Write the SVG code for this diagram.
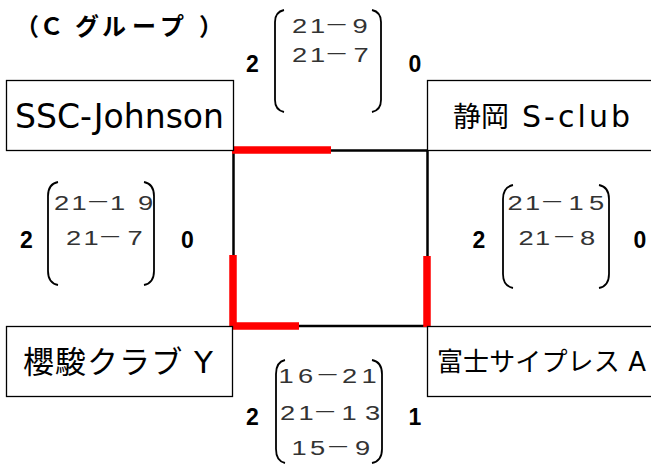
<svg xmlns="http://www.w3.org/2000/svg" width="651" height="464" viewBox="0 0 651 464">
<style>
.box{fill:#fff;stroke:#000;stroke-width:1.3}
.lbl{font-family:"DejaVu Sans","Noto Sans CJK JP",sans-serif;fill:#000}
.sc{font-family:"Liberation Sans","Noto Sans CJK JP",sans-serif;font-size:21px;fill:#333;text-anchor:middle}
.d{font-size:19px}
.big{font-family:"Liberation Sans",sans-serif;font-weight:bold;font-size:23px;fill:#000;text-anchor:middle}
.br{fill:none;stroke:#000;stroke-width:1.8}
.edge{fill:none;stroke:#000;stroke-width:2.5}
.win{fill:none;stroke:#f00;stroke-width:7.5;stroke-linecap:butt;stroke-linejoin:miter}
</style>
<rect width="651" height="464" fill="#fff"/>
<text id="title" x="15 39.5 75 102 132 160 199" y="35" style="font-family:'Noto Sans CJK JP',sans-serif;font-weight:bold;font-size:24px">（Ｃグループ）</text>
<g id="connectors">
<rect class="edge" x="233.5" y="150.5" width="194" height="175.5"/>
<path class="win" d="M232 150H331"/>
<path class="win" d="M233 255V326H299"/>
<path class="win" d="M427 256V327"/>
</g>
<g id="team-ssc">
<rect class="box" x="6.5" y="80.5" width="227" height="70"/>
<text class="lbl" x="15" y="127.5" font-size="33" textLength="209">SSC-Johnson</text>
</g>
<g id="team-shizuoka">
<rect class="box" x="427.5" y="80.5" width="240" height="70"/>
<text class="lbl" x="453" y="127" font-size="28">静岡 <tspan x="522" font-size="30" textLength="108">S-club</tspan></text>
</g>
<g id="team-ouryun">
<rect class="box" x="6.5" y="326.5" width="226" height="70"/>
<text class="lbl" x="23" y="373" font-size="31" textLength="190">櫻駿クラブ Y</text>
</g>
<g id="team-fuji">
<rect class="box" x="427.5" y="326.5" width="240" height="70"/>
<text class="lbl" x="437" y="371" font-size="26" textLength="209">富士サイプレス A</text>
</g>
<g id="score-top">
<text class="big" x="252.5" y="72">2</text>
<path class="br" d="M284 10Q275 12 275 22V100Q275 110 284 112"/>
<text class="sc" transform="scale(1.3 1)" y="33"><tspan x="230.38">2</tspan><tspan x="244.23">1</tspan><tspan class="d" x="258.85" dy="-1">－</tspan><tspan x="276.92" dy="1">9</tspan></text>
<text class="sc" transform="scale(1.3 1)" y="62"><tspan x="230.38">2</tspan><tspan x="244.23">1</tspan><tspan class="d" x="258.85" dy="-1">－</tspan><tspan x="277.69" dy="1">7</tspan></text>
<path class="br" d="M372 10Q381 12 381 22V100Q381 110 372 112"/>
<text class="big" x="415" y="72">0</text>
</g>
<g id="score-left">
<text class="big" x="26.5" y="248">2</text>
<path class="br" d="M58 182Q48 184 48 196V271Q48 283 58 285"/>
<text class="sc" transform="scale(1.3 1)" y="210"><tspan x="47.31">2</tspan><tspan x="60.77">1</tspan><tspan class="d" x="75.38" dy="-1">－</tspan><tspan x="90.38" dy="1">1</tspan><tspan x="111.92">9</tspan></text>
<text class="sc" transform="scale(1.3 1)" y="245"><tspan x="56.54">2</tspan><tspan x="70">1</tspan><tspan class="d" x="84.62" dy="-1">－</tspan><tspan x="103.85" dy="1">7</tspan></text>
<path class="br" d="M144 182Q154 184 154 196V271Q154 283 144 285"/>
<text class="big" x="187.5" y="248">0</text>
</g>
<g id="score-right">
<text class="big" x="479" y="248">2</text>
<path class="br" d="M513 185Q503 187 503 199V274Q503 286 513 288"/>
<text class="sc" transform="scale(1.3 1)" y="210"><tspan x="396.15">2</tspan><tspan x="409.62">1</tspan><tspan class="d" x="424.62" dy="-1">－</tspan><tspan x="443.08" dy="1">1</tspan><tspan x="458.85">5</tspan></text>
<text class="sc" transform="scale(1.3 1)" y="245"><tspan x="404.62">2</tspan><tspan x="417.31">1</tspan><tspan class="d" x="433.85" dy="-1">－</tspan><tspan x="451.92" dy="1">8</tspan></text>
<path class="br" d="M599 185Q609 187 609 199V274Q609 286 599 288"/>
<text class="big" x="640" y="248">0</text>
</g>
<g id="score-bottom">
<text class="big" x="252.5" y="425">2</text>
<path class="br" d="M285 360Q276 362 276 374V449Q276 461 285 463"/>
<text class="sc" transform="scale(1.3 1)" y="383"><tspan x="220">1</tspan><tspan x="235">6</tspan><tspan class="d" x="251.92" dy="-1">－</tspan><tspan x="268.85" dy="1">2</tspan><tspan x="283.85">1</tspan></text>
<text class="sc" transform="scale(1.3 1)" y="420"><tspan x="221.15">2</tspan><tspan x="235.38">1</tspan><tspan class="d" x="250" dy="-1">－</tspan><tspan x="268.46" dy="1">1</tspan><tspan x="286.54">3</tspan></text>
<text class="sc" transform="scale(1.3 1)" y="455"><tspan x="230">1</tspan><tspan x="244.23">5</tspan><tspan class="d" x="260" dy="-1">－</tspan><tspan x="278.85" dy="1">9</tspan></text>
<path class="br" d="M372 360Q382 362 382 374V449Q382 461 372 463"/>
<text class="big" x="415" y="425">1</text>
</g>
</svg>
